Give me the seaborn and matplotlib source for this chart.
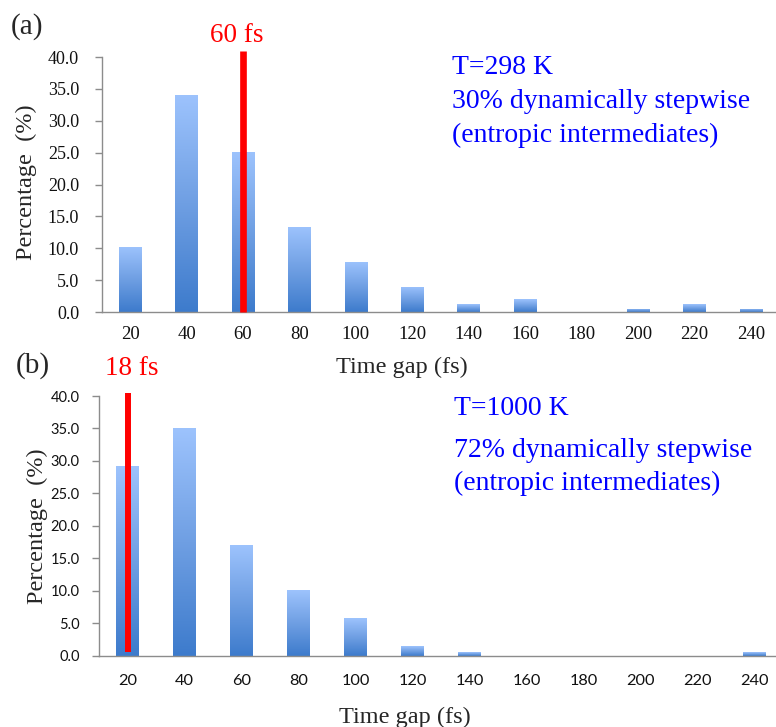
import numpy as np
import pandas as pd
import seaborn as sns
import matplotlib.pyplot as plt
from matplotlib.colors import LinearSegmentedColormap

# time gap categories (fs)
gaps = ["20", "40", "60", "80", "100", "120", "140", "160", "180", "200", "220", "240"]

# percentages
pct_298 = [10.2, 34.1, 25.1, 13.4, 7.9, 4.0, 1.2, 2.0, 0.0, 0.5, 1.2, 0.5]
pct_1000 = [29.2, 35.0, 17.0, 10.1, 5.8, 1.5, 0.5, 0.0, 0.0, 0.0, 0.0, 0.5]

# red marker lines: (category, bottom, top, label)
mark_298 = ("60", 0.0, 41.0, "60 fs")
mark_1000 = ("20", 0.5, 40.5, "18 fs")

notes_298 = ["T=298 K", "30% dynamically stepwise", "(entropic intermediates)"]
notes_1000 = ["T=1000 K", "72% dynamically stepwise", "(entropic intermediates)"]

sns.set_style("white")
plt.rcParams['font.family'] = ['Liberation Serif', 'DejaVu Serif']

W, H = 776, 727
fig = plt.figure(figsize=(W / 100, H / 100), dpi=100)

grad = LinearSegmentedColormap.from_list("bar", ["#3d7bcc", "#6f9fe3", "#9dc3fd"])
axis_grey = "#8c8c8c"


def px(x, y):
    return x / W, 1 - y / H


def draw_panel(rect, values, mark, tick_font, ytick_size, xtick_size, ypad, xpad, lw):
    ax = fig.add_axes(rect)
    df = pd.DataFrame({"gap": gaps, "pct": values})
    sns.barplot(data=df, x="gap", y="pct", order=gaps, color="#6f9fe3",
                width=0.4, ax=ax, zorder=2)
    # vertical gradient fill, light on top, darker at the base
    g = np.linspace(0, 1, 256).reshape(-1, 1)
    for p in ax.patches:
        x0, w, h = p.get_x(), p.get_width(), p.get_height()
        if h <= 0:
            continue
        p.set_facecolor("none")
        p.set_edgecolor("none")
        im = ax.imshow(g, cmap=grad, origin="lower", aspect="auto",
                       extent=[x0, x0 + w, 0, h], zorder=2)
        im.set_clip_path(p)
    ax.set_xlim(-0.5, len(gaps) - 0.5)
    ax.set_ylim(0, 40)
    ax.set_yticks(np.arange(0, 41, 5))
    ax.set_yticklabels([f"{v:.1f}" for v in np.arange(0, 41, 5)])
    ax.set_xticks(range(len(gaps)))
    ax.set_xticklabels(gaps)
    ax.set_xticks(np.arange(-0.5, len(gaps), 1), minor=True)
    ax.tick_params(axis="x", which="major", length=0, pad=xpad)
    ax.tick_params(axis="x", which="minor", length=5, width=1, color=axis_grey, direction="out")
    ax.tick_params(axis="y", which="major", length=5, width=1, color=axis_grey,
                   direction="out", pad=ypad, left=True)
    ax.tick_params(axis="x", which="major", labelsize=xtick_size,
                   labelfontfamily=tick_font, labelcolor="#111111")
    ax.tick_params(axis="y", which="major", labelsize=ytick_size,
                   labelfontfamily=tick_font, labelcolor="#111111")
    ax.set_xlabel("")
    ax.set_ylabel("")
    for s in ["top", "right"]:
        ax.spines[s].set_visible(False)
    for s in ["left", "bottom"]:
        ax.spines[s].set_color(axis_grey)
        ax.spines[s].set_linewidth(1)
    cat, y0, y1, _ = mark
    xi = gaps.index(cat)
    ax.plot([xi, xi], [y0, y1], color="#ff0000", lw=lw, solid_capstyle="butt",
            clip_on=False, zorder=5)
    return ax


ax_a = draw_panel([102 / W, 1 - 312 / H, 677 / W, 255 / H], pct_298, mark_298,
                  "Liberation Serif", 13, 13.5, 11.5, 10, 4.8)
ax_b = draw_panel([99 / W, 1 - 655.7 / H, 684 / W, 259.7 / H], pct_1000, mark_1000,
                  "Lato", 10.5, 11.8, 9, 13.5, 4.3)

# panel letters and marker labels
fig.text(*px(11, 33.5), "(a)", fontsize=21, va="baseline", ha="left")
fig.text(*px(16, 372.7), "(b)", fontsize=21, va="baseline", ha="left")
fig.text(*px(236.7, 41.7), mark_298[3], fontsize=19.5, color="#ff0000", va="baseline", ha="center")
fig.text(*px(132, 375), mark_1000[3], fontsize=19.5, color="#ff0000", va="baseline", ha="center")

# axis titles
fig.text(*px(401.7, 373), "Time gap (fs)", fontsize=17.5, va="baseline", ha="center")
fig.text(*px(405, 723), "Time gap (fs)", fontsize=17.5, va="baseline", ha="center")
fig.text(*px(26.7, 182.5), "Percentage  (%)", fontsize=17.5, rotation=90, va="center", ha="center")
fig.text(*px(37.5, 525.7), "Percentage  (%)", fontsize=17.5, rotation=90, va="center", ha="center")

# temperature notes
for line, yb in zip(notes_298, [74, 108.3, 141.7]):
    fig.text(*px(451.7, yb), line, fontsize=20, color="#0000ff", va="baseline", ha="left")
for line, yb in zip(notes_1000, [415, 457.3, 490]):
    fig.text(*px(454, yb), line, fontsize=20, color="#0000ff", va="baseline", ha="left")

fig.savefig("out.png", dpi=100)
